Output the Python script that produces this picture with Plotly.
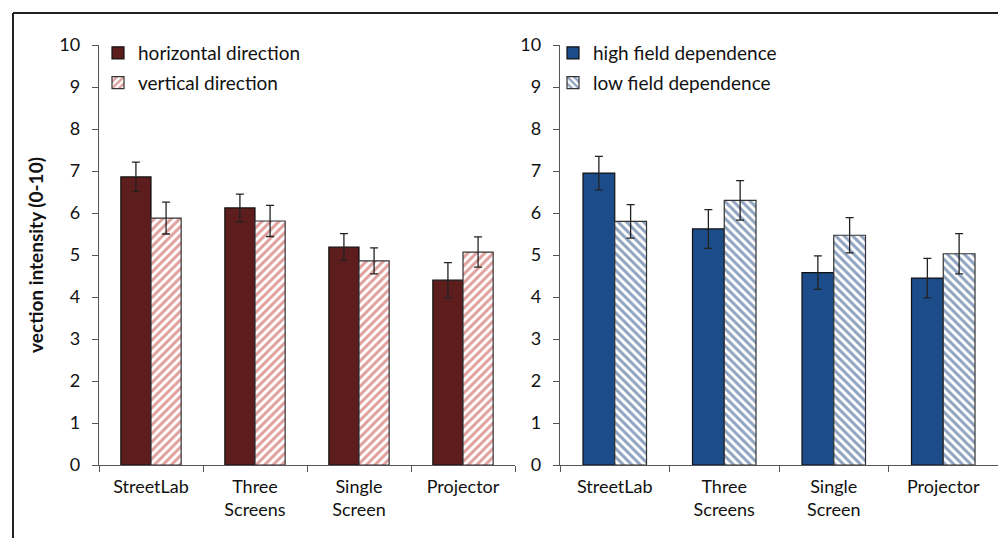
import plotly.graph_objects as go

categories = ["StreetLab", "Three<br>Screens", "Single<br>Screen", "Projector"]

horizontal = [6.86, 6.12, 5.19, 4.40]
horizontal_err = [0.35, 0.33, 0.32, 0.42]
vertical = [5.88, 5.81, 4.86, 5.07]
vertical_err = [0.38, 0.37, 0.31, 0.36]

high_fd = [6.95, 5.62, 4.58, 4.45]
high_fd_err = [0.40, 0.46, 0.40, 0.47]
low_fd = [5.80, 6.30, 5.47, 5.03]
low_fd_err = [0.40, 0.47, 0.42, 0.48]

y_ticks = list(range(0, 11))

FONT = "Lato"
W, H = 1006, 538
T, B = 37, 81
PH = H - T - B
fig = go.Figure()

err_style = dict(type="data", color="#222222", thickness=1.3, width=4)

fig.add_trace(go.Bar(x=categories, y=horizontal, name="horizontal direction",
                     error_y=dict(array=horizontal_err, **err_style),
                     marker=dict(color="#5e1d1d", line=dict(color="#111111", width=1.2)),
                     xaxis="x", yaxis="y", legend="legend", legendgroup="a"))
fig.add_trace(go.Bar(x=categories, y=vertical, name="vertical direction",
                     error_y=dict(array=vertical_err, **err_style),
                     marker=dict(color="white", line=dict(color="#333333", width=1.2),
                                 pattern=dict(shape="/", fgcolor="#c0403a", bgcolor="white",
                                              size=6, solidity=0.5)),
                     xaxis="x", yaxis="y", legend="legend", legendgroup="b"))
fig.add_trace(go.Bar(x=categories, y=high_fd, name="high field dependence",
                     error_y=dict(array=high_fd_err, **err_style),
                     marker=dict(color="#1c4d8a", line=dict(color="#111111", width=1.2)),
                     xaxis="x2", yaxis="y2", legend="legend2", legendgroup="c"))
fig.add_trace(go.Bar(x=categories, y=low_fd, name="low field dependence",
                     error_y=dict(array=low_fd_err, **err_style),
                     marker=dict(color="white", line=dict(color="#333333", width=1.2),
                                 pattern=dict(shape="\\", fgcolor="#1f4580", bgcolor="white",
                                              size=6, solidity=0.5)),
                     xaxis="x2", yaxis="y2", legend="legend2", legendgroup="d"))

xl = (91 / W, 507 / W)
xr = (552 / W, 990 / W)

axis_common = dict(showline=True, linecolor="#555555", linewidth=1.3,
                   tickfont=dict(family=FONT, size=18, color="#111111"))

legend_font = dict(family=FONT, size=19, color="#111111")

fig.update_layout(
    width=W, height=H,
    margin=dict(l=0, r=0, t=T, b=B, autoexpand=False),
    paper_bgcolor="white", plot_bgcolor="white",
    barmode="group", bargap=0.42, bargroupgap=0.0,
    font=dict(family=FONT, color="#111111"),
    xaxis=dict(domain=list(xl), anchor="y", ticks="outside", tickson="boundaries",
               ticklen=6, tickcolor="#555555", showgrid=False, ticklabelstandoff=5,
               **axis_common),
    yaxis=dict(domain=[0, 1], anchor="x", range=[0, 10], tickvals=y_ticks,
               ticks="outside", ticklen=6, tickcolor="#555555", showgrid=False,
               zeroline=False, ticklabelstandoff=8,
               title=dict(text="<b>vection intensity (0-10)</b>",
                          font=dict(family=FONT, size=19, color="#111111"), standoff=10),
               **axis_common),
    xaxis2=dict(domain=list(xr), anchor="y2", ticks="outside", tickson="boundaries",
                ticklen=6, tickcolor="#555555", showgrid=False, ticklabelstandoff=5,
                **axis_common),
    yaxis2=dict(domain=[0, 1], anchor="x2", range=[0, 10], tickvals=y_ticks,
                ticks="outside", ticklen=6, tickcolor="#555555", showgrid=False,
                zeroline=False, ticklabelstandoff=8, **axis_common),
    legend=dict(x=90 / W, y=1 + 11 / PH, xanchor="left", yanchor="top",
                xref="paper", yref="paper", font=legend_font,
                bgcolor="rgba(0,0,0,0)", itemwidth=30, tracegroupgap=2),
    legend2=dict(x=545 / W, y=1 + 11 / PH, xanchor="left", yanchor="top",
                 xref="paper", yref="paper", font=legend_font,
                 bgcolor="rgba(0,0,0,0)", itemwidth=30, tracegroupgap=2),
    showlegend=True,
)

# outer frame lines (top and left)
top_y = 1 + (T - 5) / PH
fig.add_shape(type="line", xref="paper", yref="paper",
              x0=5 / W, x1=1.0, y0=top_y, y1=top_y,
              line=dict(color="#222222", width=2))
fig.add_shape(type="line", xref="paper", yref="paper",
              x0=5 / W, x1=5 / W, y0=-B / PH, y1=top_y,
              line=dict(color="#222222", width=2))

fig.write_html("out.html")
